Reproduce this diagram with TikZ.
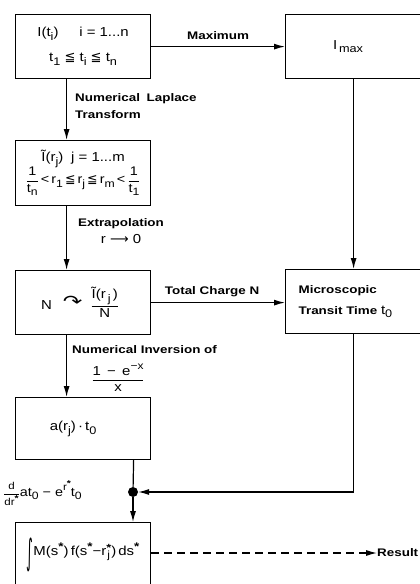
\documentclass[tikz,border=0pt]{standalone}
\usepackage{fontspec}
\usepackage{graphicx}
\setmainfont{Liberation Sans}[FakeStretch=1.15]
\newfontfamily\lblf{Liberation Sans Bold}[FakeStretch=1.22]
\newfontfamily\symf{DejaVu Sans}
\usetikzlibrary{arrows.meta}
\newcommand\lowsc[1]{\raisebox{-0.55ex}{\scalebox{0.85}{#1}}}
\newcommand\upsc[1]{\raisebox{0.85ex}{\scalebox{0.8}{#1}}}
\newcommand\myleq{{\symf ≦}}
\newcommand\myfrac[2]{$\displaystyle\frac{\hbox{#1}}{\hbox{#2}}$}
\newcommand\bstar{\raisebox{0.85ex}{\lblf\scalebox{0.85}{*}}}
\newcommand\rjstar{r\raisebox{-0.4ex}{\scalebox{0.8}{\shortstack{\lblf *\\[-3pt]j}}}}
\begin{document}
\begin{tikzpicture}[x=1pt,y=-1pt,
  box/.style={draw, line width=1.2pt, minimum width=135pt, minimum height=64pt,
    anchor=north west, inner sep=0pt, align=center, font=\fontsize{13}{15}\selectfont},
  lbl/.style={font=\lblf\fontsize{11}{17}\selectfont, inner sep=0pt},
  txt/.style={font=\fontsize{13}{15}\selectfont, inner sep=0pt},
  arr/.style={line width=1.2pt, -{Latex[length=11pt,width=6pt]}},
  dashedarr/.style={line width=1.2pt, dash pattern=on 8pt off 5pt, -{Latex[length=11pt,width=6pt]}}]
\useasboundingbox (0,0) rectangle (420,584);
\clip (0,0) rectangle (420,584);

% boxes
\node[box] (b1) at (15,14) {I(t\lowsc{i})\hspace{1.6em}i = 1...n\\[10pt]t\lowsc{1}\ \myleq\ t\lowsc{i}\ \myleq\ t\lowsc{n}};
\node[box, minimum width=145pt] (bmax) at (285,14) {I\lowsc{\,max}\hspace*{20pt}};
\node[box, minimum height=65pt] (b2) at (15,140) {Ĩ(r\lowsc{j})\hspace{0.6em}j = 1...m\\[-2pt]
  {\fontsize{12.5}{14}\selectfont\myfrac{1}{t\lowsc{n}}\,<\,r\lowsc{1}\,\myleq\,r\lowsc{j}\,\myleq\,r\lowsc{m}\,<\,\myfrac{1}{t\lowsc{1}}}};
\node[box] (b3) at (15,270) {N\hspace{11pt}\raisebox{0.3ex}{\scalebox{1.8}[1.3]{\symf ↷}}\hspace{8pt}\myfrac{Ĩ(r\,\lowsc{j}\,)}{N}\hspace*{6pt}};
\node[box, minimum width=145pt, align=left, text width=119pt, inner xsep=13pt,
  font=\lblf\fontsize{11}{21}\selectfont] (bmic) at (285,269) {Microscopic\\Transit Time {\normalfont\fontsize{13}{15}\selectfont t\lowsc{0}}};
\node[box, minimum height=62pt] (ba) at (15,397) {a(r\lowsc{j})\,·\,t\lowsc{0}\hspace*{20pt}};
\node[box] (bint) at (15,522) {\raisebox{-1.2ex}{\scalebox{1}[2.7]{\symf ∫}}M(s\bstar)\,f(s\bstar−\rjstar)\,ds\bstar};

% junction dot
\node[circle, fill, inner sep=0pt, minimum size=10pt] (dot) at (133,492) {};

% connectors
\draw[arr] (b1.east) -- node[lbl, above=6pt] (lmax) {Maximum} (bmax.west);
\draw[arr] ([xshift=-16.5pt]b1.south) -- ([xshift=-16.5pt]b2.north);
\node[lbl, anchor=north west, align=left] (llap) at (75,93) {Numerical\hspace{0.6em}Laplace\\Transform};
\draw[arr] ([xshift=-16.5pt]b2.south) -- ([xshift=-16.5pt]b3.north);
\node[lbl, anchor=north, align=center] (lext) at (121,218) {Extrapolation\\{\normalfont\fontsize{13}{15}\selectfont r {\symf ⟶} 0}};
\draw[arr] (b3.east) -- node[lbl, above=5pt, xshift=-6pt] (ltot) {Total Charge N} (b3.east -| bmic.west);
\draw[arr] ([xshift=-4.5pt]bmax.south) -- ([xshift=-4.5pt]bmax.south |- bmic.north);
\draw[arr] ([xshift=-16.5pt]b3.south) -- ([xshift=-16.5pt]ba.north);
\node[lbl, anchor=north west] (linv) at (72,345) {Numerical Inversion of};
\node[txt] (lfrac) at (118,378) {\myfrac{1 \,−\, e\upsc{−x}}{x}};
\draw[line width=1.2pt] ([xshift=50.5pt]ba.south) -- (dot);
\draw[arr] (dot) -- (dot |- bint.north);
\draw[arr] ([xshift=-4.5pt]bmic.south) |- (dot);
\node[txt, anchor=west, font=\fontsize{12.5}{14}\selectfont] (lder) at (3,493)
  {{\fontsize{10}{12}\selectfont\myfrac{d}{dr\bstar}}at\lowsc{0} − e\upsc{r\bstar}t\lowsc{0}};
\node[lbl, anchor=west] (res) at (377,553) {Result};
\draw[dashedarr] (bint.east |- res.west) -- (res.west);
\end{tikzpicture}
\end{document}
